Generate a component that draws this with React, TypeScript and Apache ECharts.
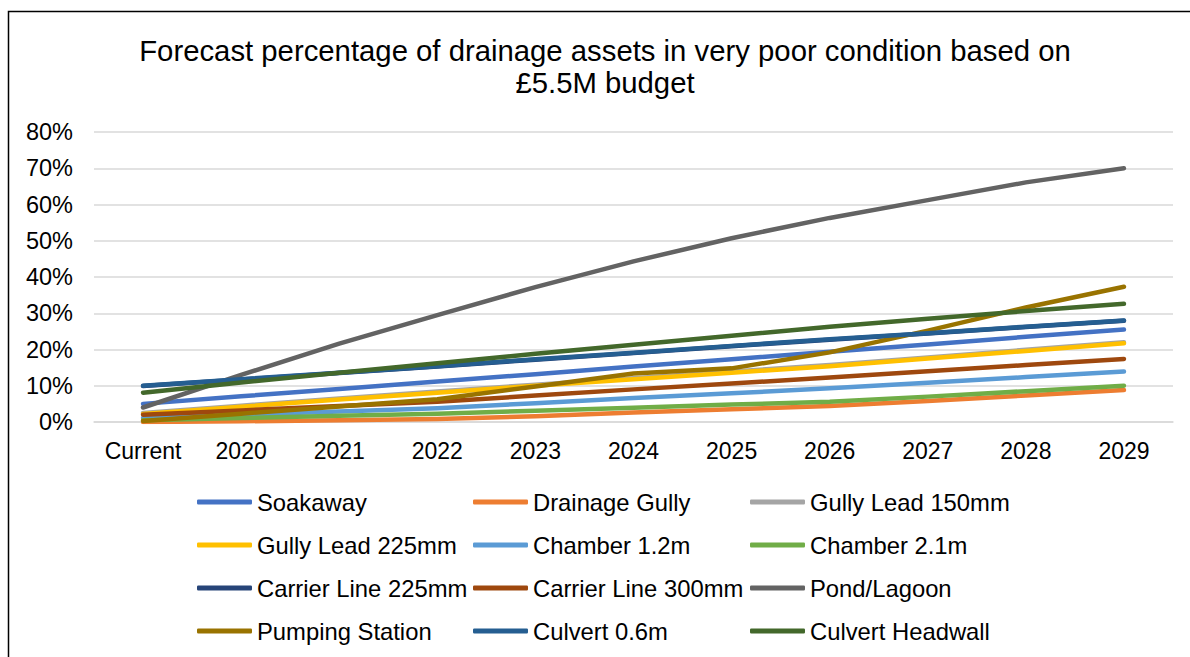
import React, { useEffect, useRef } from "react";
import * as echarts from "echarts";

const categories = ["Current", "2020", "2021", "2022", "2023", "2024", "2025", "2026", "2027", "2028", "2029"];
const yTicks = [0, 10, 20, 30, 40, 50, 60, 70, 80];

const soakaway = [5, 7.1, 9.1, 11.2, 13.2, 15.3, 17.3, 19.4, 21.4, 23.5, 25.5];
const drainageGully = [0, 0.2, 0.5, 0.8, 1.6, 2.6, 3.5, 4.4, 5.8, 7.3, 8.8];
const gullyLead150 = [2.5, 4.5, 6.5, 8.4, 10.3, 12.1, 13.9, 15.7, 17.8, 19.9, 22.0];
const gullyLead225 = [2.2, 4.2, 6.2, 8.1, 10.0, 11.8, 13.6, 15.4, 17.5, 19.6, 21.7];
const chamber12 = [1.1, 2.0, 2.9, 3.8, 5.2, 6.6, 7.9, 9.3, 10.8, 12.4, 13.9];
const chamber21 = [0.5, 1.1, 1.7, 2.3, 3.1, 3.9, 4.8, 5.6, 7.0, 8.5, 10.0];
const carrierLine225 = [9.9, 11.7, 13.5, 15.3, 17.2, 19.0, 20.9, 22.7, 24.4, 26.2, 27.9];
const carrierLine300 = [2.0, 3.2, 4.4, 5.6, 7.3, 9.0, 10.6, 12.3, 14.0, 15.7, 17.4];
const pondLagoon = [4.0, 13.0, 21.6, 29.5, 37.2, 44.3, 50.7, 56.3, 61.2, 66.1, 70.0];
const pumpingStation = [0.3, 2.3, 4.3, 6.3, 9.8, 13.4, 14.8, 19.2, 25.2, 31.6, 37.3];
const culvert06 = [10.0, 11.8, 13.6, 15.4, 17.3, 19.1, 21.0, 22.8, 24.5, 26.3, 28.0];
const culvertHeadwall = [8.1, 10.9, 13.6, 16.2, 18.8, 21.3, 23.8, 26.3, 28.5, 30.6, 32.6];

const seriesNames = [
  "Soakaway",
  "Drainage Gully",
  "Gully Lead 150mm",
  "Gully Lead 225mm",
  "Chamber 1.2m",
  "Chamber 2.1m",
  "Carrier Line 225mm",
  "Carrier Line 300mm",
  "Pond/Lagoon",
  "Pumping Station",
  "Culvert 0.6m",
  "Culvert Headwall",
];
const seriesValues = [
  soakaway,
  drainageGully,
  gullyLead150,
  gullyLead225,
  chamber12,
  chamber21,
  carrierLine225,
  carrierLine300,
  pondLagoon,
  pumpingStation,
  culvert06,
  culvertHeadwall,
];
const seriesColors = [
  "#4472C4",
  "#ED7D31",
  "#A5A5A5",
  "#FFC000",
  "#5B9BD5",
  "#70AD47",
  "#264478",
  "#9E480E",
  "#636363",
  "#997300",
  "#255E91",
  "#43682B",
];

const legendColumns = [
  ["Soakaway", "Gully Lead 225mm", "Carrier Line 225mm", "Pumping Station"],
  ["Drainage Gully", "Chamber 1.2m", "Carrier Line 300mm", "Culvert 0.6m"],
  ["Gully Lead 150mm", "Chamber 2.1m", "Pond/Lagoon", "Culvert Headwall"],
];
const legendLefts = [197, 473, 750];

const FONT = "'Liberation Sans', Arial, sans-serif";

export default function App() {
  const ref = useRef<HTMLDivElement>(null);
  useEffect(() => {
    document.body.style.margin = "0";
    if (!ref.current) return;
    const chart = echarts.init(ref.current, undefined, { renderer: "svg" });
    chart.setOption({
      animation: false,
      textStyle: { fontFamily: FONT },
      title: {
        text: "Forecast percentage of drainage assets in very poor condition based on\n£5.5M budget",
        left: 605,
        top: 34,
        padding: 0,
        textAlign: "center",
        textStyle: {
          fontFamily: FONT,
          fontSize: 29.3,
          fontWeight: "normal",
          color: "#000",
          lineHeight: 32,
        },
      },
      graphic: [
        {
          type: "rect",
          shape: { x: 8.5, y: 11.5, width: 1300, height: 800 },
          style: { fill: "none", stroke: "#000", lineWidth: 1.5 },
          silent: true,
        },
      ],
      legend: legendColumns.map((col, i) => ({
        data: col.map((n) => ({ name: n, icon: "roundRect" })),
        orient: "vertical",
        left: legendLefts[i],
        top: 490,
        padding: 0,
        itemWidth: 55,
        itemHeight: 5,
        itemGap: 19,
        selectedMode: false,
        textStyle: { fontFamily: FONT, fontSize: 23.8, color: "#000", lineHeight: 24 },
      })),
      grid: { left: 94, right: 17, top: 132, bottom: 235, containLabel: false },
      xAxis: {
        type: "category",
        data: categories,
        boundaryGap: true,
        axisLine: { show: true, lineStyle: { color: "#d9d9d9", width: 1.5 } },
        axisTick: { show: false },
        axisLabel: {
          fontFamily: FONT,
          fontSize: 23,
          color: "#000",
          margin: 17,
          interval: 0,
          hideOverlap: false,
        },
      },
      yAxis: {
        type: "value",
        min: yTicks[0],
        max: yTicks[yTicks.length - 1],
        interval: 10,
        axisLine: { show: false },
        axisTick: { show: false },
        splitLine: { lineStyle: { color: "#d9d9d9", width: 1.5 } },
        axisLabel: {
          fontFamily: FONT,
          fontSize: 23.5,
          color: "#000",
          margin: 21,
          formatter: (v: number) => `${v}%`,
        },
      },
      series: seriesNames.map((name, i) => ({
        name,
        type: "line",
        data: seriesValues[i],
        symbol: "none",
        showSymbol: false,
        color: seriesColors[i],
        lineStyle: { width: 4.5, color: seriesColors[i], cap: "round", join: "round" },
        itemStyle: { color: seriesColors[i] },
        emphasis: { disabled: true },
      })),
    });
    return () => chart.dispose();
  }, []);
  return <div ref={ref} style={{ width: 1190, height: 657 }} />;
}
